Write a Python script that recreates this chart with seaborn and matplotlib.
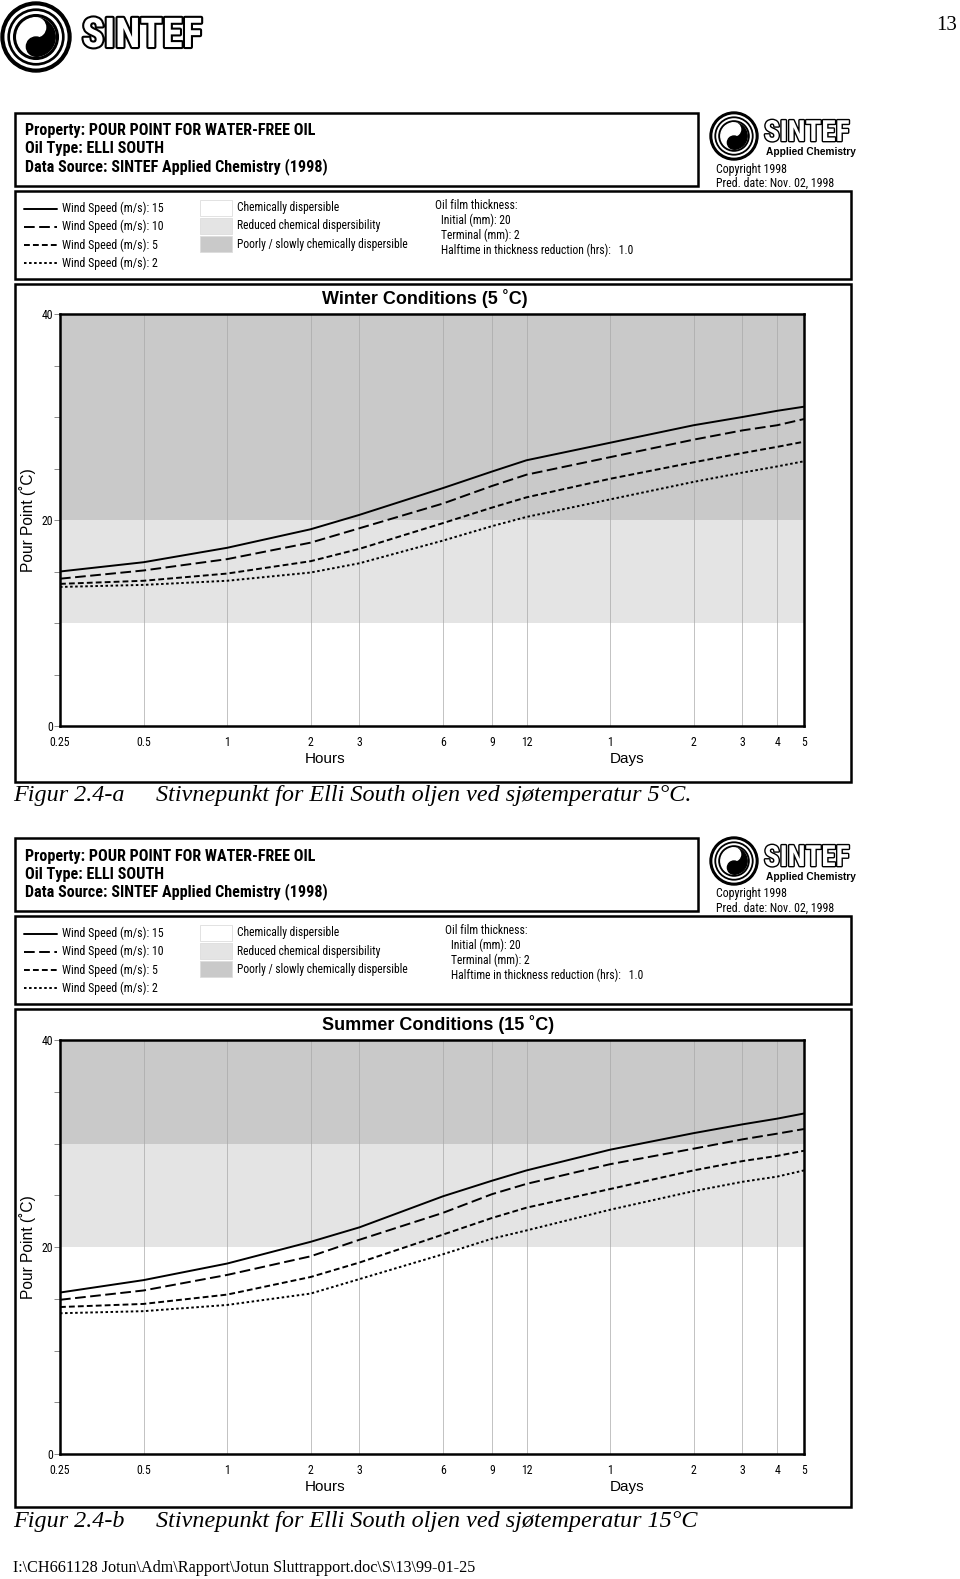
import numpy as np
import pandas as pd
import matplotlib
matplotlib.use('Agg')
import matplotlib.pyplot as plt
import matplotlib.patheffects as pe
import seaborn as sns
from matplotlib.patches import Rectangle, Circle, Wedge
from matplotlib.lines import Line2D

sns.set_style('white')
NARROW = ['Roboto Condensed', 'Archivo Narrow', 'Liberation Sans']
plt.rcParams['font.family'] = NARROW
plt.rcParams['text.color'] = 'black'

# time axis (hours) and its labels (hours first, then days)
hours = [0.25, 0.5, 1, 2, 3, 6, 9, 12, 24, 48, 72, 96, 120]
xtick_labels = ['0.25', '0.5', '1', '2', '3', '6', '9', '12', '1', '2', '3', '4', '5']
wind_speeds = [15, 10, 5, 2]

# pour point (C)
winter_ws15 = [15.0, 15.9, 17.3, 19.1, 20.5, 23.1, 24.7, 25.8, 27.5, 29.2, 30.0, 30.6, 31.0]
winter_ws10 = [14.3, 15.1, 16.2, 17.8, 19.2, 21.6, 23.3, 24.4, 26.1, 27.8, 28.7, 29.2, 29.8]
winter_ws5 = [13.8, 14.1, 14.8, 16.0, 17.2, 19.7, 21.2, 22.2, 24.0, 25.6, 26.5, 27.1, 27.6]
winter_ws2 = [13.5, 13.7, 14.1, 14.9, 15.8, 18.0, 19.4, 20.3, 22.0, 23.7, 24.6, 25.2, 25.7]

summer_ws15 = [15.6, 16.8, 18.4, 20.5, 21.9, 24.9, 26.4, 27.4, 29.4, 31.0, 31.85, 32.4, 32.9]
summer_ws10 = [14.9, 15.8, 17.3, 19.1, 20.7, 23.3, 25.1, 26.1, 28.0, 29.5, 30.4, 30.95, 31.4]
summer_ws5 = [14.2, 14.5, 15.4, 17.1, 18.5, 21.2, 22.8, 23.8, 25.6, 27.4, 28.3, 28.8, 29.3]
summer_ws2 = [13.6, 13.8, 14.4, 15.5, 16.9, 19.3, 20.8, 21.6, 23.6, 25.4, 26.3, 26.8, 27.4]

# dispersibility limits: reduced between the two, poorly above the upper one
winter_limits = [10, 20]
summer_limits = [20, 30]

legend_labels = ['Chemically dispersible', 'Reduced chemical dispersibility',
                 'Poorly / slowly chemically dispersible']
band_colors = ['white', '#e4e4e4', '#c9c9c9']
dash_map = {15: '', 10: (5.5, 2.3), 5: (3.0, 1.6), 2: (1.3, 1.3)}

W, H = 960, 1579
fig = plt.figure(figsize=(W / 100, H / 100), dpi=100)
bg = fig.add_axes([0, 0, 1, 1])
bg.set_xlim(0, W)
bg.set_ylim(H, 0)
bg.axis('off')


def box(x0, y0, x1, y1, lw=1.8):
    bg.add_patch(Rectangle((x0, y0), x1 - x0, y1 - y0, fill=False, lw=lw, ec='black'))


def outline_word(word, x, y, size, lw):
    bg.text(x, y, word, fontsize=size, color='white', fontweight='bold',
            family=['Roboto Condensed', 'Anton', 'DejaVu Sans'], va='center', ha='left',
            path_effects=[pe.withStroke(linewidth=lw, foreground='black')])


def logo(cx, cy, r):
    bg.add_patch(Circle((cx, cy), r, color='black'))
    for f in (0.86, 0.70):
        bg.add_patch(Circle((cx, cy), r * f, fill=False, ec='white', lw=r * 0.06))
    inner = r * 0.55
    bg.add_patch(Circle((cx, cy), inner, color='white'))
    bg.add_patch(Wedge((cx, cy), inner, -90, 90, color='black'))
    bg.add_patch(Circle((cx, cy - inner / 2), inner / 2, color='white'))
    bg.add_patch(Circle((cx, cy + inner / 2), inner / 2, color='black'))


# page header
logo(36, 37, 35)
outline_word('SINTEF', 82, 36, 29.5, 3.0)
bg.text(947, 25, '13', ha='center', va='center', fontsize=15, family='Liberation Serif')


def panel(dy, ax_top, ax_bot, title, title_x, curves, limits, fig_tag, fig_text, oil_dx):
    # header box
    box(15, 113 + dy, 698, 186 + dy)
    for i, s in enumerate(['Property: POUR POINT FOR WATER-FREE OIL', 'Oil Type: ELLI SOUTH',
                           'Data Source: SINTEF Applied Chemistry (1998)']):
        bg.text(25, 131 + dy + 18 * i, s, fontsize=11.6, fontweight='bold', va='center', family=NARROW)
    logo(734, 136 + dy, 24)
    outline_word('SINTEF', 764, 133 + dy, 21, 2.0)
    bg.text(766, 152 + dy, 'Applied Chemistry', fontsize=7.3, fontweight='bold',
            va='center', family='Liberation Sans')
    bg.text(716, 169 + dy, 'Copyright 1998', fontsize=8.6, va='center', family=NARROW)
    bg.text(716, 183.5 + dy, 'Pred. date: Nov. 02, 1998', fontsize=8.6, va='center', family=NARROW)

    # legend box
    box(15, 191 + dy, 851, 279 + dy)
    for i, ws in enumerate(wind_speeds):
        y = 208.5 + dy + 18.2 * i
        ln = Line2D([24, 57], [y, y], color='black', lw=1.4)
        if dash_map[ws]:
            ln.set_dashes(dash_map[ws])
        bg.add_line(ln)
        bg.text(61.5, y, f'Wind Speed (m/s): {ws}', fontsize=8.6, va='center', family=NARROW)
    for i, (lab, col) in enumerate(zip(legend_labels, band_colors)):
        y = 200 + dy + 18.2 * i
        bg.add_patch(Rectangle((199.5, y), 32, 15.5, fc=col, ec='#dddddd', lw=0.6))
        bg.text(237, y + 7.8, lab, fontsize=8.3, va='center', family=NARROW)
    oil = ['Oil film thickness:', 'Initial (mm): 20', 'Terminal (mm): 2',
           'Halftime in thickness reduction (hrs):   1.0']
    for i, s in enumerate(oil):
        bg.text(435 + oil_dx + (0 if i == 0 else 6), 205.5 + dy + 14.8 * i, s,
                fontsize=8.35, va='center', family=NARROW)

    # plot box
    box(15, 284 + dy, 851, 782 + dy)
    bg.text(title_x, 299 + dy, title, fontsize=13, fontweight='bold', ha='center', va='center',
            family='Liberation Sans')
    bg.text(28, (ax_top + ax_bot) / 2, 'Pour Point (˚C)', rotation=90, fontsize=11.2,
            ha='center', va='center', family='Liberation Sans')
    bg.text(325, ax_bot + 33, 'Hours', fontsize=11, ha='center', va='center', family='Liberation Sans')
    bg.text(627.5, ax_bot + 33, 'Days', fontsize=11, ha='center', va='center', family='Liberation Sans')

    ax = fig.add_axes([60 / W, 1 - ax_bot / H, (804 - 60) / W, (ax_bot - ax_top) / H])
    ax.set_xscale('log')
    ax.set_xlim(0.25, 120)
    ax.set_ylim(0, 40)
    ax.axhspan(limits[0], limits[1], color=band_colors[1], lw=0, zorder=0)
    ax.axhspan(limits[1], 40, color=band_colors[2], lw=0, zorder=0)
    for h in hours:
        ax.axvline(h, color='#a9a9a9', lw=0.5, zorder=1)
    df = pd.DataFrame({'hours': hours * len(wind_speeds),
                       'pour': sum(curves, []),
                       'wind': np.repeat(wind_speeds, len(hours))})
    sns.lineplot(data=df, x='hours', y='pour', style='wind', dashes=dash_map, color='black',
                 lw=1.4, legend=False, ax=ax, zorder=3)
    ax.minorticks_off()
    ax.set_xticks(hours)
    ax.set_xticklabels(xtick_labels)
    ax.set_yticks(range(0, 41, 5))
    ax.set_yticklabels(['0', '', '', '', '20', '', '', '', '40'])
    ax.tick_params(axis='x', length=0, pad=7, labelsize=8.5, labelcolor='black')
    ax.tick_params(axis='y', left=True, length=4, width=0.6, color='#777777', pad=1,
                   labelsize=8.5, labelcolor='black')
    ax.set_xlabel('')
    ax.set_ylabel('')
    for s in ax.spines.values():
        s.set_visible(True)
        s.set_linewidth(1.8)
        s.set_color('black')
        s.set_zorder(5)

    # caption
    bg.text(13, 796 + dy, fig_tag, fontsize=17.4, style='italic', va='center', family='Liberation Serif')
    bg.text(156, 796 + dy, fig_text, fontsize=17.4, style='italic', va='center', family='Liberation Serif')


panel(0, 314, 726, 'Winter Conditions (5 ˚C)', 425,
      [winter_ws15, winter_ws10, winter_ws5, winter_ws2], winter_limits,
      'Figur 2.4-a', 'Stivnepunkt for Elli South oljen ved sjøtemperatur 5°C.', 0)
panel(725, 1040, 1454, 'Summer Conditions (15 ˚C)', 438,
      [summer_ws15, summer_ws10, summer_ws5, summer_ws2], summer_limits,
      'Figur 2.4-b', 'Stivnepunkt for Elli South oljen ved sjøtemperatur 15°C', 10)

bg.text(13, 1568, 'I:\\CH661128 Jotun\\Adm\\Rapport\\Jotun Sluttrapport.doc\\S\\13\\99-01-25',
        fontsize=11.6, va='center', family='Liberation Serif')

fig.savefig('out.png', dpi=100)
